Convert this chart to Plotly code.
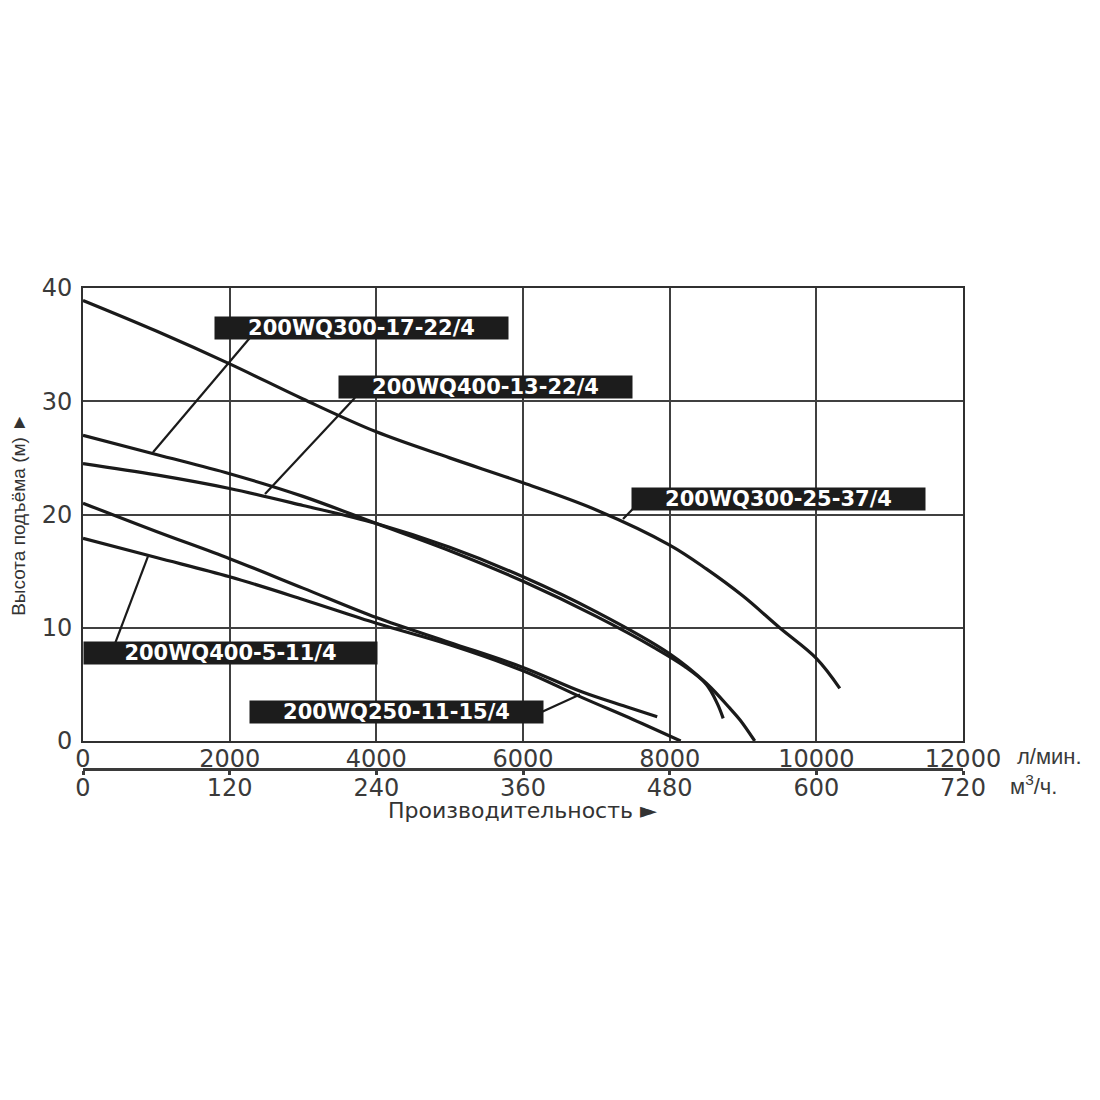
import plotly.graph_objects as go

# Q, л/мин  /  H, м
q_300_25_37 = [0, 1000, 2000, 3000, 4000, 5000, 6000, 7000, 8000, 8500, 9000, 9500, 10000, 10320]
h_300_25_37 = [38.9, 36.2, 33.3, 30.2, 27.3, 25.0, 22.8, 20.4, 17.3, 15.2, 12.8, 10.0, 7.3, 4.65]

q_300_17_22 = [0, 1000, 2000, 3000, 4000, 5000, 6000, 7000, 7800, 8200, 8500, 8650, 8730]
h_300_17_22 = [27.0, 25.3, 23.6, 21.6, 19.2, 16.8, 14.1, 11.0, 8.2, 6.6, 5.0, 3.3, 2.0]

q_400_13_22 = [0, 1000, 2000, 3000, 4000, 5000, 6000, 7000, 8000, 8500, 8820, 8960, 9160]
h_400_13_22 = [24.5, 23.5, 22.3, 20.8, 19.2, 17.1, 14.5, 11.4, 7.7, 5.1, 2.9, 1.85, 0]

q_250_11_15 = [0, 1000, 2000, 3000, 4000, 5000, 6000, 6800, 7400, 7830]
h_250_11_15 = [21.0, 18.5, 16.1, 13.5, 10.9, 8.7, 6.5, 4.35, 3.05, 2.15]

q_400_5_11 = [0, 1000, 2000, 3000, 4000, 5000, 6000, 6800, 7500, 8150]
h_400_5_11 = [17.9, 16.2, 14.5, 12.5, 10.4, 8.5, 6.2, 3.85, 1.9, 0]

x_ticks_lmin = [0, 2000, 4000, 6000, 8000, 10000, 12000]
x_ticks_m3h = [0, 120, 240, 360, 480, 600, 720]
y_ticks = [0, 10, 20, 30, 40]

curves = [
    ("200WQ300-25-37/4", q_300_25_37, h_300_25_37),
    ("200WQ300-17-22/4", q_300_17_22, h_300_17_22),
    ("200WQ400-13-22/4", q_400_13_22, h_400_13_22),
    ("200WQ250-11-15/4", q_250_11_15, h_250_11_15),
    ("200WQ400-5-11/4", q_400_5_11, h_400_5_11),
]

# label box centre, leader start, leader end (data coords)
labels = [
    ("200WQ300-17-22/4", (3800, 36.45), (2277, 35.6), (955, 25.5)),
    ("200WQ400-13-22/4", (5495, 31.25), (3709, 30.3), (2482, 21.8)),
    ("200WQ300-25-37/4", (9490, 21.4), (7500, 20.5), (7364, 19.6)),
    ("200WQ400-5-11/4", (2011, 7.77), (436, 8.6), (886, 16.3)),
    ("200WQ250-11-15/4", (4275, 2.55), (6232, 2.5), (6777, 4.1)),
]

TICK_FONT = dict(family="DejaVu Sans", size=24, color="#3a3a3a")
NARROW = "Liberation Sans Narrow, Liberation Sans, Arial"
M3_AXIS_POS = 0.0625

fig = go.Figure()

for name, q, h in curves:
    fig.add_trace(go.Scatter(
        x=q, y=h, mode="lines", name=name,
        line=dict(color="#1a1a1a", width=3.2, shape="spline", smoothing=1.0),
        hoverinfo="skip", showlegend=False,
    ))

# same curve in m3/h on a thin strip below the chart, carries the second scale
fig.add_trace(go.Scatter(
    x=[v * 0.06 for v in q_300_25_37], y=h_300_25_37, xaxis="x2", yaxis="y2",
    mode="lines", line=dict(width=0), opacity=0,
    hoverinfo="skip", showlegend=False,
))

for text, (cx, cy), (x0, y0), (x1, y1) in labels:
    fig.add_shape(type="line", xref="x", yref="y", x0=x0, y0=y0, x1=x1, y1=y1,
                  line=dict(color="#1a1a1a", width=2.2))
    fig.add_annotation(
        x=cx, y=cy, xref="x", yref="y", text="<b>" + text + "</b>",
        showarrow=False, width=293, height=22, borderpad=0,
        bgcolor="#1c1c1c", font=dict(family="DejaVu Sans", size=21, color="white"),
    )

fig.add_annotation(x=1.059, y=0.084, xref="paper", yref="paper", text="л/мин.",
                   showarrow=False, xanchor="left", yanchor="middle",
                   font=dict(family=NARROW, size=22, color="#3a3a3a"))
fig.add_annotation(x=1.051, y=0.029, xref="paper", yref="paper", text="м<sup>3</sup>/ч.",
                   showarrow=False, xanchor="left", yanchor="middle",
                   font=dict(family=NARROW, size=22, color="#3a3a3a"))
fig.add_annotation(x=0.499, y=-0.02, xref="paper", yref="paper", text="Производительность ►",
                   showarrow=False, xanchor="center", yanchor="middle",
                   font=dict(family="DejaVu Sans", size=22, color="#333333"))
fig.add_annotation(x=-0.0727, y=0.557, xref="paper", yref="paper", text="Высота подъёма (м) ►",
                   showarrow=False, textangle=-90, xanchor="center", yanchor="middle",
                   font=dict(family=NARROW, size=19, color="#333333"))

# page body adds 8 px, so margins are 8 px smaller than the target pixels
fig.update_layout(
    width=1100, height=1100,
    margin=dict(l=75, r=145, t=280, b=308),
    paper_bgcolor="white", plot_bgcolor="white",
    xaxis=dict(
        range=[0, 12000], tickvals=x_ticks_lmin, ticktext=[str(v) for v in x_ticks_lmin],
        showgrid=True, gridcolor="#404040", gridwidth=1.5,
        showline=True, linecolor="#303030", linewidth=2, mirror=True,
        ticks="", tickfont=TICK_FONT, zeroline=False, anchor="y",
        ticklabelstandoff=-5,
    ),
    xaxis2=dict(
        range=[0, 720], tickvals=x_ticks_m3h, ticktext=[str(v) for v in x_ticks_m3h],
        anchor="y2", side="bottom",
        showgrid=False, showline=True, linecolor="#3a3a3a", linewidth=2.5,
        ticks="outside", ticklen=4, tickwidth=2.5, tickcolor="#3a3a3a",
        tickfont=TICK_FONT, zeroline=False, ticklabelstandoff=-8,
    ),
    yaxis=dict(
        range=[0, 40], tickvals=y_ticks, domain=[59 / 512, 1],
        showgrid=True, gridcolor="#404040", gridwidth=1.5,
        showline=True, linecolor="#303030", linewidth=2, mirror=True,
        ticks="", tickfont=TICK_FONT, zeroline=False, ticklabelstandoff=4,
    ),
    yaxis2=dict(
        domain=[M3_AXIS_POS, 0.1], range=[100, 101], visible=False,
        showgrid=False, zeroline=False,
    ),
)

fig.write_html("out.html")
